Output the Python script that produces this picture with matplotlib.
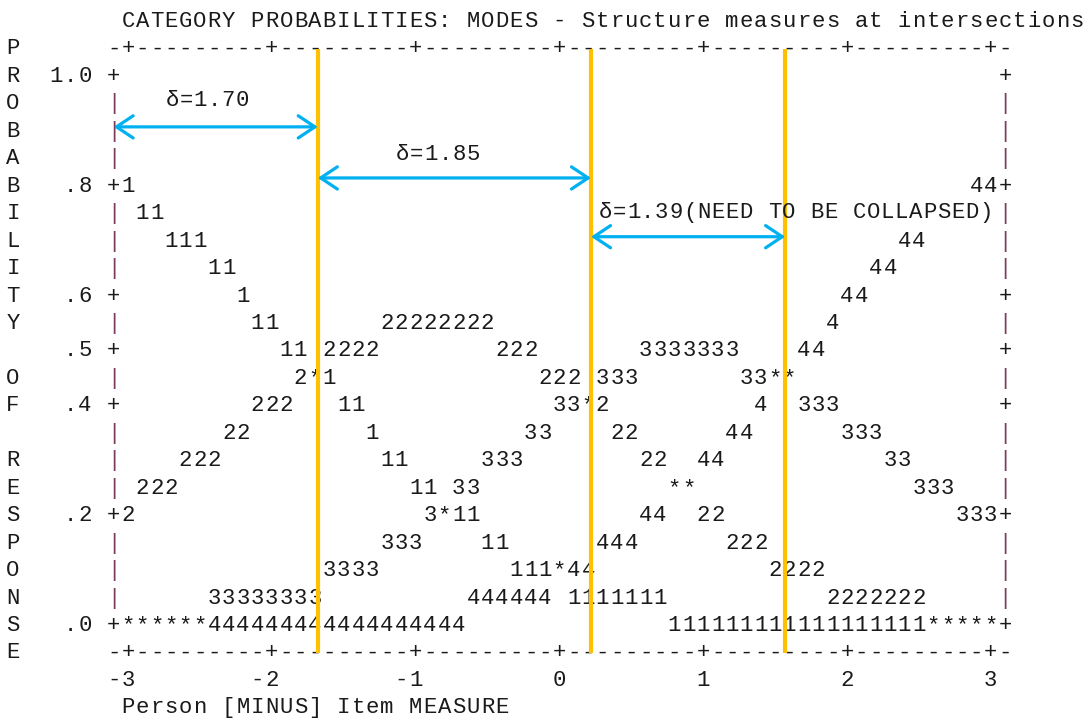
import matplotlib
matplotlib.use("Agg")
import matplotlib.pyplot as plt

# Winsteps-style character plot of category probabilities
title = "CATEGORY PROBABILITIES: MODES - Structure measures at intersections"
xlabel = "Person [MINUS] Item MEASURE"
ylabel = "PROBABILITY OF RESPONSE"

x_ticks = [-3, -2, -1, 0, 1, 2, 3]
y_ticks = [1.0, 0.8, 0.6, 0.5, 0.4, 0.2, 0.0]
y_tick_labels = ["1.0", ".8", ".6", ".5", ".4", ".2", ".0"]

# runs of plotted characters: (probability, measure of first char, chars)
curve_runs = [
    (0.80, -3.0, "1"), (0.80, 2.9, "44"),
    (0.75, -2.9, "11"),
    (0.70, -2.7, "111"), (0.70, 2.4, "44"),
    (0.65, -2.4, "11"), (0.65, 2.2, "44"),
    (0.60, -2.2, "1"), (0.60, 2.0, "44"),
    (0.55, -2.1, "11"), (0.55, -1.2, "22222222"), (0.55, 1.9, "4"),
    (0.50, -1.9, "11"), (0.50, -1.6, "2222"), (0.50, -0.4, "222"),
    (0.50, 0.6, "3333333"), (0.50, 1.7, "44"),
    (0.45, -1.8, "2*1"), (0.45, -0.1, "222"), (0.45, 0.3, "333"),
    (0.45, 1.3, "33**"),
    (0.40, -2.1, "222"), (0.40, -1.5, "11"), (0.40, 0.0, "33*2"),
    (0.40, 1.4, "4"), (0.40, 1.7, "333"),
    (0.35, -2.3, "22"), (0.35, -1.3, "1"), (0.35, -0.2, "33"),
    (0.35, 0.4, "22"), (0.35, 1.2, "44"), (0.35, 2.0, "333"),
    (0.30, -2.6, "222"), (0.30, -1.2, "11"), (0.30, -0.5, "333"),
    (0.30, 0.6, "22"), (0.30, 1.0, "44"), (0.30, 2.3, "33"),
    (0.25, -2.9, "222"), (0.25, -1.0, "11"), (0.25, -0.7, "33"),
    (0.25, 0.8, "**"), (0.25, 2.5, "333"),
    (0.20, -3.0, "2"), (0.20, -0.9, "3*11"), (0.20, 0.6, "44"),
    (0.20, 1.0, "22"), (0.20, 2.8, "333"),
    (0.15, -1.2, "333"), (0.15, -0.5, "11"), (0.15, 0.3, "444"),
    (0.15, 1.2, "222"),
    (0.10, -1.6, "3333"), (0.10, -0.3, "111*44"), (0.10, 1.5, "2222"),
    (0.05, -2.4, "33333333"), (0.05, -0.6, "444444"),
    (0.05, 0.1, "1111111"), (0.05, 1.9, "2222222"),
    (0.00, -3.0, "******444444444444444444"),
    (0.00, 0.8, "111111111111111111*****"),
]

# structure measures (orange lines) and distances between them
thresholds = [-1.68, 0.22, 1.57]
delta_labels = ["δ=1.70", "δ=1.85", "δ=1.39(NEED TO BE COLLAPSED)"]

STEP_X = 0.1    # measure per character column
STEP_Y = 0.05   # probability per text row
FRAME = 3.1     # measure of the left/right frame columns
TEXT_C = "#1a1a1a"
BAR_C = "#7a3d5e"
FONT = "Liberation Mono"
FS = 16


def put_text(ax, x, y, s, color=TEXT_C, step=STEP_X):
    # one glyph per column so the grid stays exact
    for i, ch in enumerate(s):
        if ch == " ":
            continue
        c = BAR_C if ch == "|" else color
        ax.text(x + i * step, y, ch, ha="center", va="center",
                fontsize=FS, family=FONT, color=c)


def draw_frame(ax):
    ncol = int(round(2 * FRAME / STEP_X)) + 1
    tick_cols = [int(round((t + FRAME) / STEP_X)) for t in x_ticks]
    axis_line = "".join("+" if i in tick_cols else "-" for i in range(ncol))
    put_text(ax, -FRAME, 1.0 + STEP_Y, axis_line)
    put_text(ax, -FRAME, 0.0 - STEP_Y, axis_line)

    nrow = int(round(1.0 / STEP_Y)) + 1
    for k in range(nrow):
        p = round(1.0 - k * STEP_Y, 2)
        ch = "+" if p in y_ticks else "|"
        put_text(ax, -FRAME, p, ch)
        put_text(ax, FRAME, p, ch)

    for p, lab in zip(y_ticks, y_tick_labels):
        put_text(ax, -FRAME - 0.2 - (len(lab) - 1) * STEP_X, p, lab)

    # vertical axis title, one letter per row
    for k, ch in enumerate(ylabel):
        put_text(ax, -3.8, 1.0 + STEP_Y - k * STEP_Y, ch)

    for t in x_ticks:
        lab = str(t)
        put_text(ax, t - (len(lab) - 1) * STEP_X, -2 * STEP_Y, lab)

    put_text(ax, -3.0, 1.0 + 2 * STEP_Y, title)
    put_text(ax, -3.0, -3 * STEP_Y, xlabel)


def main():
    fig = plt.figure(figsize=(10.89, 7.2), dpi=100)
    ax = fig.add_axes([0, 0, 1, 1])
    ax.set_xlim(-3.890, 3.683)
    ax.set_ylim(-0.172, 1.139)
    ax.axis("off")

    draw_frame(ax)
    for p, x0, s in curve_runs:
        put_text(ax, x0, p, s)

    # orange lines at the structure measures
    ax.vlines(thresholds, -STEP_Y, 1.0 + STEP_Y, color="#FFC000",
              linewidth=3.0, zorder=3)

    # arrows between successive measures
    starts = [-FRAME] + thresholds[:-1]
    arrow_y = [0.908, 0.815, 0.708]
    label_pos = [(-2.694, 0.956), (-1.09, 0.858), (0.32, 0.752)]
    for x0, x1, y, lab, (lx, ly) in zip(starts, thresholds, arrow_y,
                                        delta_labels, label_pos):
        ax.annotate("", xy=(x1, y), xytext=(x0, y),
                    arrowprops=dict(arrowstyle="<->,head_length=0.6,head_width=0.4",
                                    color="#00B0F0", lw=2.3,
                                    shrinkA=0, shrinkB=0, mutation_scale=20),
                    zorder=4)
        put_text(ax, lx, ly, lab, step=0.098)

    fig.savefig("out.png", dpi=100)


if __name__ == "__main__":
    main()
